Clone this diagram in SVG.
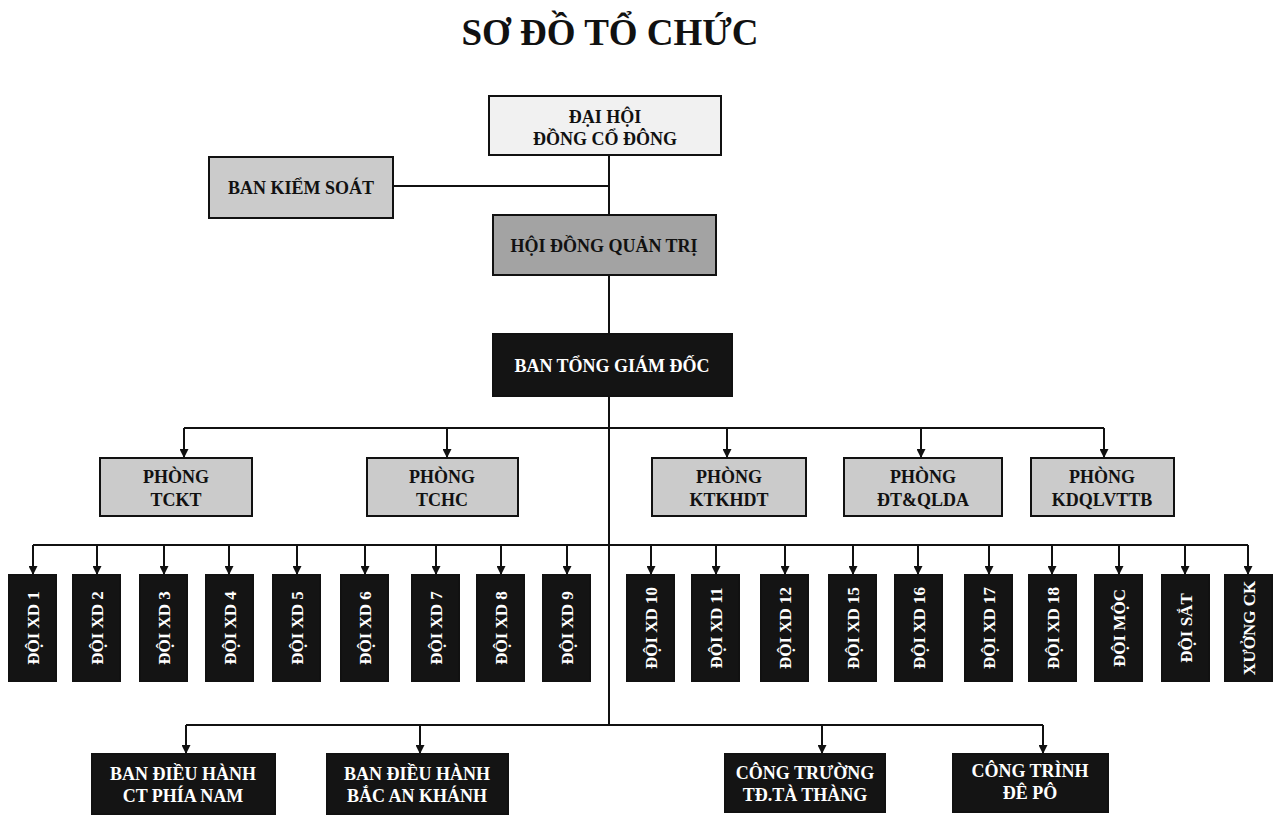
<svg xmlns="http://www.w3.org/2000/svg" width="1277" height="816" viewBox="0 0 1277 816">
<defs>
<marker id="ah" viewBox="0 0 10 10" refX="10" refY="5" markerWidth="9" markerHeight="9" markerUnits="userSpaceOnUse" orient="auto"><path d="M0,0 L10,5 L0,10 z" fill="#111"/></marker>
<style>
text{font-family:"Liberation Serif","DejaVu Serif",serif;font-weight:bold;text-anchor:middle;}
.t{font-size:18px;fill:#111;}
.w{font-size:18px;fill:#fff;}
.v{font-size:17px;fill:#fff;}
.box{stroke:#111;stroke-width:2;}
.lt{fill:#f1f1f1;}
.md{fill:#cbcbcb;}
.dk{fill:#a3a3a3;}
.bk{fill:#141414;}
.ln{stroke:#111;stroke-width:2;fill:none;}
.ar{stroke:#111;stroke-width:2;fill:none;marker-end:url(#ah);}
</style>
</defs>
<rect width="1277" height="816" fill="#fff"/>
<text x="610" y="45" style="font-size:37px;fill:#111">SƠ ĐỒ TỔ CHỨC</text>

<g id="connectors">
<line class="ln" x1="609" y1="155" x2="609" y2="725"/>
<line class="ln" x1="393" y1="186" x2="609" y2="186"/>
<line class="ln" x1="184" y1="428" x2="1104" y2="428"/>
<path class="ar" d="M184,428 V458"/>
<path class="ar" d="M447,428 V458"/>
<path class="ar" d="M727,428 V458"/>
<path class="ar" d="M921,428 V458"/>
<path class="ar" d="M1104,428 V458"/>
<line class="ln" x1="33" y1="545" x2="1248" y2="545"/>
<path class="ar" d="M33,545 V575"/>
<path class="ar" d="M97,545 V575"/>
<path class="ar" d="M164,545 V575"/>
<path class="ar" d="M229,545 V575"/>
<path class="ar" d="M297,545 V575"/>
<path class="ar" d="M365,545 V575"/>
<path class="ar" d="M436,545 V575"/>
<path class="ar" d="M501,545 V575"/>
<path class="ar" d="M567,545 V575"/>
<path class="ar" d="M651,545 V575"/>
<path class="ar" d="M716,545 V575"/>
<path class="ar" d="M785,545 V575"/>
<path class="ar" d="M853,545 V575"/>
<path class="ar" d="M918,545 V575"/>
<path class="ar" d="M989,545 V575"/>
<path class="ar" d="M1052,545 V575"/>
<path class="ar" d="M1119,545 V575"/>
<path class="ar" d="M1185,545 V575"/>
<path class="ar" d="M1248,545 V575"/>
<line class="ln" x1="186" y1="725" x2="1043" y2="725"/>
<path class="ar" d="M186,725 V754"/>
<path class="ar" d="M420,725 V754"/>
<path class="ar" d="M822,725 V754"/>
<path class="ar" d="M1043,725 V754"/>
</g>

<g id="dhdcd"><rect class="box lt" x="489" y="96" width="232" height="59"/><text class="t" x="605" y="123">ĐẠI HỘI</text><text class="t" x="605" y="145">ĐỒNG CỔ ĐÔNG</text></g>
<g id="bks"><rect class="box md" x="209" y="157" width="184" height="61"/><text class="t" x="301" y="194">BAN KIỂM SOÁT</text></g>
<g id="hdqt"><rect class="box dk" x="493" y="215" width="223" height="60"/><text class="t" x="604" y="252">HỘI ĐỒNG QUẢN TRỊ</text></g>
<g id="btgd"><rect class="box bk" x="493" y="334" width="239" height="62"/><text class="w" x="612" y="372">BAN TỔNG GIÁM ĐỐC</text></g>

<g id="p-tckt"><rect class="box md" x="100" y="458" width="152" height="58"/><text class="t" x="176" y="483">PHÒNG</text><text class="t" x="176" y="506">TCKT</text></g>
<g id="p-tchc"><rect class="box md" x="367" y="458" width="151" height="58"/><text class="t" x="442" y="483">PHÒNG</text><text class="t" x="442" y="506">TCHC</text></g>
<g id="p-ktkhdt"><rect class="box md" x="652" y="458" width="154" height="58"/><text class="t" x="729" y="483">PHÒNG</text><text class="t" x="729" y="506">KTKHDT</text></g>
<g id="p-dtqlda"><rect class="box md" x="844" y="458" width="158" height="58"/><text class="t" x="923" y="483">PHÒNG</text><text class="t" x="923" y="506">ĐT&amp;QLDA</text></g>
<g id="p-kdqlvttb"><rect class="box md" x="1031" y="458" width="143" height="58"/><text class="t" x="1102" y="483">PHÒNG</text><text class="t" x="1102" y="506">KDQLVTTB</text></g>

<g id="d1"><rect class="box bk" x="9" y="575" width="47" height="106"/><text class="v" transform="translate(32.5,628) rotate(-90)" y="6">ĐỘI XD 1</text></g>
<g id="d2"><rect class="box bk" x="73" y="575" width="47" height="106"/><text class="v" transform="translate(96.5,628) rotate(-90)" y="6">ĐỘI XD 2</text></g>
<g id="d3"><rect class="box bk" x="140" y="575" width="47" height="106"/><text class="v" transform="translate(163.5,628) rotate(-90)" y="6">ĐỘI XD 3</text></g>
<g id="d4"><rect class="box bk" x="206" y="575" width="47" height="106"/><text class="v" transform="translate(229.5,628) rotate(-90)" y="6">ĐỘI XD 4</text></g>
<g id="d5"><rect class="box bk" x="273" y="575" width="47" height="106"/><text class="v" transform="translate(296.5,628) rotate(-90)" y="6">ĐỘI XD 5</text></g>
<g id="d6"><rect class="box bk" x="341" y="575" width="47" height="106"/><text class="v" transform="translate(364.5,628) rotate(-90)" y="6">ĐỘI XD 6</text></g>
<g id="d7"><rect class="box bk" x="412" y="575" width="47" height="106"/><text class="v" transform="translate(435.5,628) rotate(-90)" y="6">ĐỘI XD 7</text></g>
<g id="d8"><rect class="box bk" x="477" y="575" width="47" height="106"/><text class="v" transform="translate(500.5,628) rotate(-90)" y="6">ĐỘI XD 8</text></g>
<g id="d9"><rect class="box bk" x="543" y="575" width="47" height="106"/><text class="v" transform="translate(566.5,628) rotate(-90)" y="6">ĐỘI XD 9</text></g>
<g id="d10"><rect class="box bk" x="627" y="575" width="47" height="106"/><text class="v" transform="translate(650.5,628) rotate(-90)" y="6">ĐỘI XD 10</text></g>
<g id="d11"><rect class="box bk" x="692" y="575" width="47" height="106"/><text class="v" transform="translate(715.5,628) rotate(-90)" y="6">ĐỘI XD 11</text></g>
<g id="d12"><rect class="box bk" x="761" y="575" width="47" height="106"/><text class="v" transform="translate(784.5,628) rotate(-90)" y="6">ĐỘI XD 12</text></g>
<g id="d15"><rect class="box bk" x="829" y="575" width="47" height="106"/><text class="v" transform="translate(852.5,628) rotate(-90)" y="6">ĐỘI XD 15</text></g>
<g id="d16"><rect class="box bk" x="895" y="575" width="47" height="106"/><text class="v" transform="translate(918.5,628) rotate(-90)" y="6">ĐỘI XD 16</text></g>
<g id="d17"><rect class="box bk" x="965" y="575" width="47" height="106"/><text class="v" transform="translate(988.5,628) rotate(-90)" y="6">ĐỘI XD 17</text></g>
<g id="d18"><rect class="box bk" x="1029" y="575" width="47" height="106"/><text class="v" transform="translate(1052.5,628) rotate(-90)" y="6">ĐỘI XD 18</text></g>
<g id="dmoc"><rect class="box bk" x="1095" y="575" width="47" height="106"/><text class="v" transform="translate(1118.5,628) rotate(-90)" y="6">ĐỘI MỘC</text></g>
<g id="dsat"><rect class="box bk" x="1162" y="575" width="47" height="106"/><text class="v" transform="translate(1185.5,628) rotate(-90)" y="6">ĐỘI SẮT</text></g>
<g id="xck"><rect class="box bk" x="1225" y="575" width="47" height="106"/><text class="v" transform="translate(1248.5,628) rotate(-90)" y="6">XƯỞNG CK</text></g>

<g id="b-phianam"><rect class="box bk" x="92" y="754" width="183" height="60"/><text class="w" x="183" y="780">BAN ĐIỀU HÀNH</text><text class="w" x="183" y="802">CT PHÍA NAM</text></g>
<g id="b-bacankhanh"><rect class="box bk" x="327" y="754" width="181" height="60"/><text class="w" x="417" y="780">BAN ĐIỀU HÀNH</text><text class="w" x="417" y="802">BẮC AN KHÁNH</text></g>
<g id="b-tathang"><rect class="box bk" x="725" y="754" width="160" height="58"/><text class="w" x="805" y="779">CÔNG TRƯỜNG</text><text class="w" x="805" y="801">TĐ.TÀ THÀNG</text></g>
<g id="b-depo"><rect class="box bk" x="953" y="754" width="155" height="58"/><text class="w" x="1030" y="777">CÔNG TRÌNH</text><text class="w" x="1030" y="799">ĐÊ PÔ</text></g>
</svg>
